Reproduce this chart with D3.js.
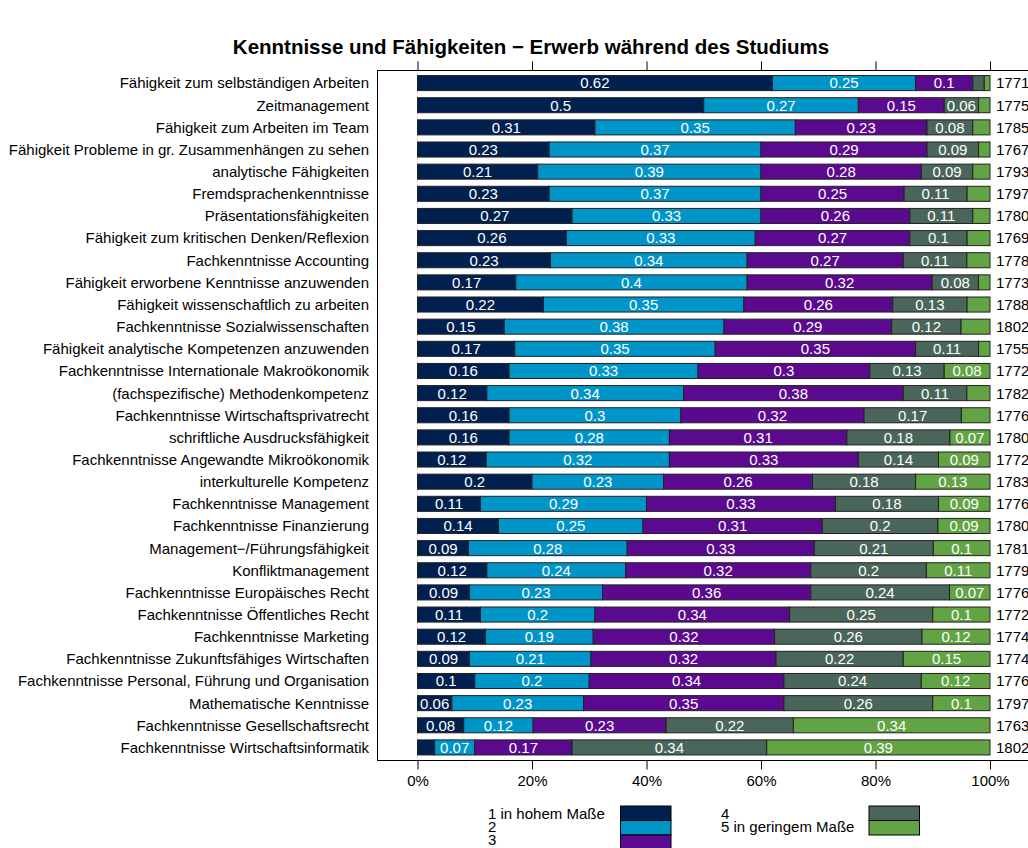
<!DOCTYPE html>
<html>
<head>
<meta charset="utf-8">
<script src="https://cdn.jsdelivr.net/npm/d3@7"></script>
<style>
  body { margin: 0; background: #fff; }
  text { font-family: "Liberation Sans", Arial, sans-serif; }
</style>
</head>
<body>
<script>
// Kategorien (von oben nach unten)
const categories = [
  "Fähigkeit zum selbständigen Arbeiten",
  "Zeitmanagement",
  "Fähigkeit zum Arbeiten im Team",
  "Fähigkeit Probleme in gr. Zusammenhängen zu sehen",
  "analytische Fähigkeiten",
  "Fremdsprachenkenntnisse",
  "Präsentationsfähigkeiten",
  "Fähigkeit zum kritischen Denken/Reflexion",
  "Fachkenntnisse Accounting",
  "Fähigkeit erworbene Kenntnisse anzuwenden",
  "Fähigkeit wissenschaftlich zu arbeiten",
  "Fachkenntnisse Sozialwissenschaften",
  "Fähigkeit analytische Kompetenzen anzuwenden",
  "Fachkenntnisse Internationale Makroökonomik",
  "(fachspezifische) Methodenkompetenz",
  "Fachkenntnisse Wirtschaftsprivatrecht",
  "schriftliche Ausdrucksfähigkeit",
  "Fachkenntnisse Angewandte Mikroökonomik",
  "interkulturelle Kompetenz",
  "Fachkenntnisse Management",
  "Fachkenntnisse Finanzierung",
  "Management\u2212/Führungsfähigkeit",
  "Konfliktmanagement",
  "Fachkenntnisse Europäisches Recht",
  "Fachkenntnisse Öffentliches Recht",
  "Fachkenntnisse Marketing",
  "Fachkenntnisse Zukunftsfähiges Wirtschaften",
  "Fachkenntnisse Personal, Führung und Organisation",
  "Mathematische Kenntnisse",
  "Fachkenntnisse Gesellschaftsrecht",
  "Fachkenntnisse Wirtschaftsinformatik"
];

// Anteile je Antwortstufe
const stufe1 = [0.62, 0.5, 0.31, 0.23, 0.21, 0.23, 0.27, 0.26, 0.23, 0.17, 0.22, 0.15, 0.17, 0.16, 0.12, 0.16,
                0.16, 0.12, 0.2, 0.11, 0.14, 0.09, 0.12, 0.09, 0.11, 0.12, 0.09, 0.1, 0.06, 0.08, 0.03];
const stufe2 = [0.25, 0.27, 0.35, 0.37, 0.39, 0.37, 0.33, 0.33, 0.34, 0.4, 0.35, 0.38, 0.35, 0.33, 0.34, 0.3,
                0.28, 0.32, 0.23, 0.29, 0.25, 0.28, 0.24, 0.23, 0.2, 0.19, 0.21, 0.2, 0.23, 0.12, 0.07];
const stufe3 = [0.1, 0.15, 0.23, 0.29, 0.28, 0.25, 0.26, 0.27, 0.27, 0.32, 0.26, 0.29, 0.35, 0.3, 0.38, 0.32,
                0.31, 0.33, 0.26, 0.33, 0.31, 0.33, 0.32, 0.36, 0.34, 0.32, 0.32, 0.34, 0.35, 0.23, 0.17];
const stufe4 = [0.02, 0.06, 0.08, 0.09, 0.09, 0.11, 0.11, 0.1, 0.11, 0.08, 0.13, 0.12, 0.11, 0.13, 0.11, 0.17,
                0.18, 0.14, 0.18, 0.18, 0.2, 0.21, 0.2, 0.24, 0.25, 0.26, 0.22, 0.24, 0.26, 0.22, 0.34];
const stufe5 = [0.01, 0.02, 0.03, 0.02, 0.03, 0.04, 0.03, 0.04, 0.04, 0.02, 0.04, 0.05, 0.02, 0.08, 0.04, 0.05,
                0.07, 0.09, 0.13, 0.09, 0.09, 0.1, 0.11, 0.07, 0.1, 0.12, 0.15, 0.12, 0.1, 0.34, 0.39];

// Fallzahlen rechts
const nWerte = [1771, 1775, 1785, 1767, 1793, 1797, 1780, 1769, 1778, 1773, 1788, 1802, 1755, 1772, 1782, 1776,
                1780, 1772, 1783, 1776, 1780, 1781, 1779, 1776, 1772, 1774, 1774, 1776, 1797, 1763, 1802];

const legendLabels = ["1 in hohem Maße", "2", "3", "4", "5 in geringem Maße"];
const tickValues = [0, 0.2, 0.4, 0.6, 0.8, 1];
const colors = ["#00214f", "#0095c8", "#5b0a8f", "#4a665a", "#62a344"];

const width = 1028, height = 848;
const frame = { left: 377.5, right: 1030, top: 70.5, bottom: 760.5 };
const fs = "15px";

const svg = d3.select("body").append("svg")
  .attr("width", width)
  .attr("height", height);

// Daten zeilenweise aufbereiten
const keys = ["s1", "s2", "s3", "s4", "s5"];
const reihen = [stufe1, stufe2, stufe3, stufe4, stufe5];
const rows = categories.map((c, i) => {
  const r = { name: c, n: nWerte[i] };
  keys.forEach((k, j) => r[k] = reihen[j][i]);
  return r;
});
const series = d3.stack().keys(keys).offset(d3.stackOffsetExpand)(rows);

const xScale = d3.scaleLinear().domain([0, 1]).range([417.5, 990]);
const yScale = d3.scaleBand().domain(categories).range([72, 758.5])
  .paddingInner(0.32).paddingOuter(0.16);

// Titel
svg.append("text")
  .attr("x", 531).attr("y", 54)
  .attr("text-anchor", "middle")
  .style("font-size", "20.5px").style("font-weight", "bold")
  .text("Kenntnisse und Fähigkeiten \u2212 Erwerb während des Studiums");

// Referenzlinie bei 0
svg.append("line")
  .attr("x1", xScale(0)).attr("x2", xScale(0))
  .attr("y1", frame.top).attr("y2", frame.bottom)
  .attr("stroke", "#e6e6e6");

// Balken
const layers = svg.append("g").selectAll("g")
  .data(series)
  .enter().append("g")
  .attr("fill", (d, i) => colors[i]);

layers.selectAll("rect")
  .data(d => d.map(p => ({ p: p, key: d.key })))
  .enter().append("rect")
  .attr("x", d => xScale(d.p[0]))
  .attr("y", d => yScale(d.p.data.name))
  .attr("width", d => xScale(d.p[1]) - xScale(d.p[0]))
  .attr("height", yScale.bandwidth())
  .attr("stroke", "#222")
  .attr("stroke-width", 1);

// Werte in den Balken
layers.selectAll("text")
  .data(d => d.map(p => ({ p: p, key: d.key })).filter(d => d.p.data[d.key] >= 0.06))
  .enter().append("text")
  .attr("x", d => (xScale(d.p[0]) + xScale(d.p[1])) / 2)
  .attr("y", d => yScale(d.p.data.name) + yScale.bandwidth() / 2)
  .attr("dy", "0.36em")
  .attr("text-anchor", "middle")
  .attr("fill", "#fff")
  .style("font-size", fs)
  .text(d => String(d.p.data[d.key]));

// Kategorienbeschriftung links
svg.append("g").selectAll("text")
  .data(categories)
  .enter().append("text")
  .attr("x", 369)
  .attr("y", d => yScale(d) + yScale.bandwidth() / 2)
  .attr("dy", "0.36em")
  .attr("text-anchor", "end")
  .style("font-size", fs)
  .text(d => d);

// Fallzahlen rechts
svg.append("g").selectAll("text")
  .data(rows)
  .enter().append("text")
  .attr("x", 996)
  .attr("y", d => yScale(d.name) + yScale.bandwidth() / 2)
  .attr("dy", "0.36em")
  .style("font-size", fs)
  .text(d => d.n);

// Rahmen
svg.append("rect")
  .attr("x", frame.left).attr("y", frame.top)
  .attr("width", frame.right - frame.left)
  .attr("height", frame.bottom - frame.top)
  .attr("fill", "none").attr("stroke", "#000");

// Achsen
const xAxisBottom = d3.axisBottom(xScale).tickValues(tickValues)
  .tickFormat(d3.format(".0%")).tickSize(9).tickPadding(6);
const axB = svg.append("g").attr("transform", `translate(0,${frame.bottom})`).call(xAxisBottom);
axB.select(".domain").remove();
axB.selectAll("text").style("font-size", fs).attr("fill", "#000")
  .style("font-family", "'Liberation Sans', Arial, sans-serif");

const xAxisTop = d3.axisTop(xScale).tickValues(tickValues).tickFormat("").tickSize(9);
const axT = svg.append("g").attr("transform", `translate(0,${frame.top})`).call(xAxisTop);
axT.select(".domain").remove();

// Legende
const legend = svg.append("g");
const legPos = [
  { tx: 488, bx: 620.5, row: 0 }, { tx: 488, bx: 620.5, row: 1 }, { tx: 488, bx: 620.5, row: 2 },
  { tx: 721, bx: 869, row: 0 }, { tx: 721, bx: 869, row: 1 }
];
legendLabels.forEach((lab, i) => {
  const p = legPos[i];
  legend.append("rect")
    .attr("x", p.bx).attr("y", 806 + p.row * 14.5)
    .attr("width", 50.5).attr("height", 14.5)
    .attr("fill", colors[i]).attr("stroke", "#000");
  legend.append("text")
    .attr("x", p.tx).attr("y", 819 + p.row * 13)
    .style("font-size", fs)
    .text(lab);
});
</script>
</body>
</html>
